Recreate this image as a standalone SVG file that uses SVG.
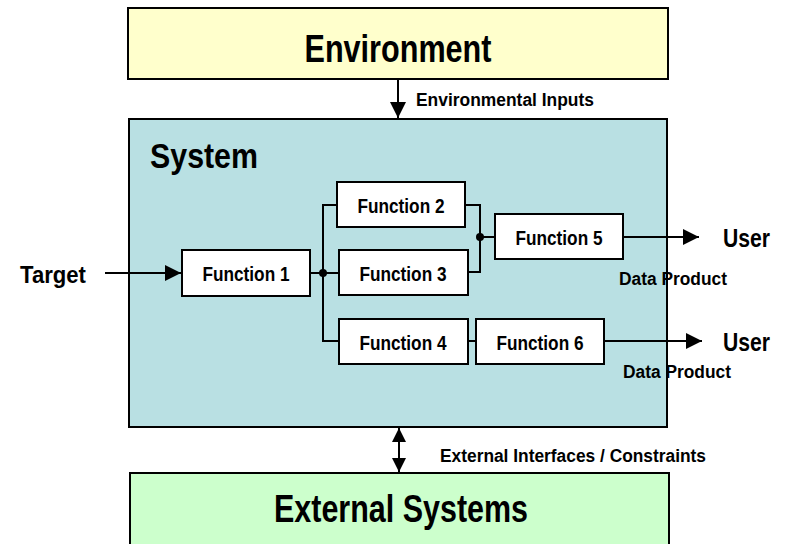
<svg xmlns="http://www.w3.org/2000/svg" width="786" height="544" viewBox="0 0 786 544">
<defs>
<style>
text{font-family:"Liberation Sans",Arial,sans-serif;font-weight:bold;fill:#000}
.big{font-size:38px}
.fn{font-size:19.5px}
.lbl{font-size:18px}
.box{fill:#fff;stroke:#000;stroke-width:2}
.ln{fill:none;stroke:#000;stroke-width:2}
</style>
<marker id="ahl" viewBox="0 0 10 10" refX="10" refY="5" markerWidth="16" markerHeight="16" markerUnits="userSpaceOnUse" orient="auto"><path d="M0,0 L10,5 L0,10 z" fill="#000"/></marker>
<marker id="ahs" viewBox="0 0 10 10" refX="10" refY="5" markerWidth="14" markerHeight="14" markerUnits="userSpaceOnUse" orient="auto-start-reverse"><path d="M0,0 L10,5 L0,10 z" fill="#000"/></marker>
</defs>
<g id="environment">
<rect x="128" y="8" width="540" height="71" fill="#FFFFCC" stroke="#000" stroke-width="2"/>
<text class="big" x="398" y="62" text-anchor="middle" textLength="187" lengthAdjust="spacingAndGlyphs">Environment</text>
</g>
<g id="system">
<rect x="129" y="119" width="538" height="308" fill="#B9E0E3" stroke="#000" stroke-width="2"/>
<text x="150" y="168" font-size="35" textLength="108" lengthAdjust="spacingAndGlyphs">System</text>
</g>
<g id="external">
<rect x="130" y="473" width="539" height="80" fill="#CCFFCC" stroke="#000" stroke-width="2"/>
<text class="big" x="401" y="522" text-anchor="middle" textLength="254" lengthAdjust="spacingAndGlyphs">External Systems</text>
</g>
<g id="connectors">
<line class="ln" x1="398" y1="79" x2="398" y2="118" marker-end="url(#ahl)"/>
<line class="ln" x1="399" y1="440" x2="399" y2="460"/>
<line class="ln" x1="399" y1="445" x2="399" y2="428" marker-end="url(#ahs)"/>
<line class="ln" x1="399" y1="455" x2="399" y2="472" marker-end="url(#ahs)"/>
<line class="ln" x1="105" y1="273" x2="181" y2="273" marker-end="url(#ahl)"/>
<line class="ln" x1="310" y1="273" x2="339" y2="273"/>
<path class="ln" d="M337,205 H323 V341 H339"/>
<circle cx="323" cy="273" r="4" fill="#000"/>
<path class="ln" d="M465,205 H480 V272 H468"/>
<line class="ln" x1="480" y1="237" x2="495" y2="237"/>
<circle cx="480" cy="237" r="4" fill="#000"/>
<line class="ln" x1="468" y1="341" x2="476" y2="341"/>
<line class="ln" x1="623" y1="237" x2="699" y2="237" marker-end="url(#ahl)"/>
<line class="ln" x1="604" y1="341" x2="702" y2="341" marker-end="url(#ahl)"/>
</g>
<g id="f1"><rect class="box" x="182" y="250" width="128" height="46"/><text class="fn" x="246" y="281" text-anchor="middle" textLength="87" lengthAdjust="spacingAndGlyphs">Function 1</text></g>
<g id="f2"><rect class="box" x="337" y="182" width="128" height="45"/><text class="fn" x="401" y="213" text-anchor="middle" textLength="87" lengthAdjust="spacingAndGlyphs">Function 2</text></g>
<g id="f3"><rect class="box" x="339" y="250" width="129" height="45"/><text class="fn" x="403" y="281" text-anchor="middle" textLength="87" lengthAdjust="spacingAndGlyphs">Function 3</text></g>
<g id="f4"><rect class="box" x="339" y="319" width="129" height="45"/><text class="fn" x="403" y="350" text-anchor="middle" textLength="87" lengthAdjust="spacingAndGlyphs">Function 4</text></g>
<g id="f5"><rect class="box" x="495" y="214" width="128" height="45"/><text class="fn" x="559" y="245" text-anchor="middle" textLength="87" lengthAdjust="spacingAndGlyphs">Function 5</text></g>
<g id="f6"><rect class="box" x="476" y="319" width="128" height="45"/><text class="fn" x="540" y="350" text-anchor="middle" textLength="87" lengthAdjust="spacingAndGlyphs">Function 6</text></g>
<g id="labels">
<text class="lbl" x="416" y="106" textLength="178" lengthAdjust="spacingAndGlyphs">Environmental Inputs</text>
<text class="lbl" x="440" y="462" textLength="266" lengthAdjust="spacingAndGlyphs">External Interfaces / Constraints</text>
<text x="20" y="283" font-size="23" textLength="66" lengthAdjust="spacingAndGlyphs">Target</text>
<text x="723" y="247" font-size="25" textLength="47" lengthAdjust="spacingAndGlyphs">User</text>
<text x="723" y="351" font-size="25" textLength="47" lengthAdjust="spacingAndGlyphs">User</text>
<text class="lbl" x="619" y="285" textLength="108" lengthAdjust="spacingAndGlyphs">Data Product</text>
<text class="lbl" x="623" y="378" textLength="108" lengthAdjust="spacingAndGlyphs">Data Product</text>
</g>
</svg>
